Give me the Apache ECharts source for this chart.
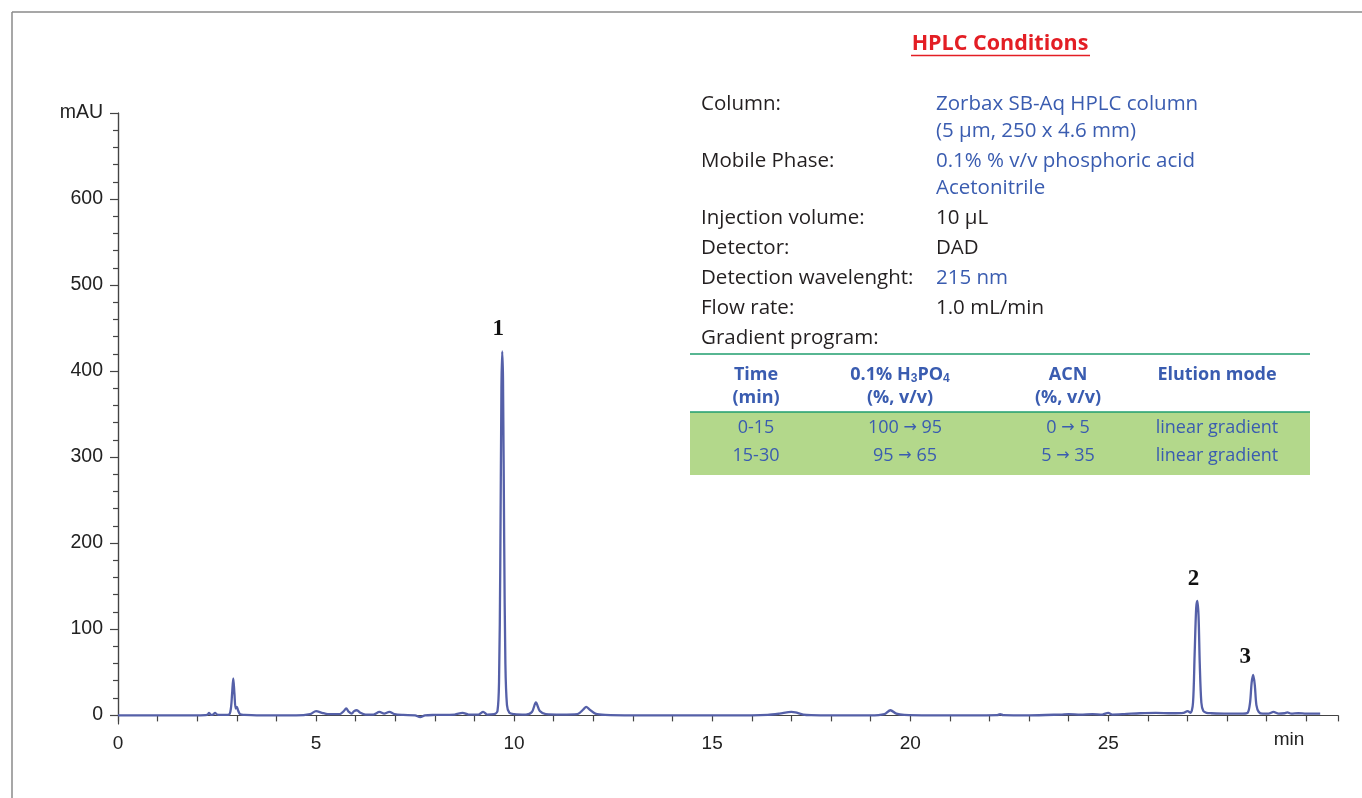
<!DOCTYPE html>
<html>
<head>
<meta charset="utf-8">
<script src="https://cdn.jsdelivr.net/npm/echarts@6/dist/echarts.min.js"></script>
<style>
html,body{margin:0;padding:0;background:#fff;}
#chart{width:1362px;height:798px;}
</style>
</head>
<body>
<div id="chart"></div>
<script>
// Chromatogram: [retention time (min), absorbance (mAU)]
const chromatogram = [
  [0,0],[0.5,0],[1.0,0],[1.5,0],[2.0,0],[2.25,0.5],[2.30,3],[2.35,0.5],[2.40,1],[2.45,3],[2.50,1],[2.6,0.5],
  [2.80,1],[2.85,8],[2.88,25],[2.91,43],[2.94,25],[2.97,8],[3.00,10],[3.03,6],[3.07,2],[3.12,1],[3.2,0.5],
  [3.5,0],[4.0,0],[4.5,0],[4.85,1.5],[5.0,5],[5.15,3],[5.3,1.5],[5.6,1.5],[5.7,5],[5.76,8],[5.83,4],[5.9,2],
  [5.96,5],[6.03,6],[6.12,3],[6.25,1],[6.45,1],[6.6,4],[6.72,2],[6.85,4],[6.98,1.5],[7.2,0.5],[7.5,0],
  [7.63,-2],[7.75,0],[8.0,0.5],[8.5,1],[8.7,3],[8.85,1],[9.1,1],[9.22,4],[9.32,1],[9.5,1.5],[9.58,5],
  [9.62,40],[9.65,170],[9.68,380],[9.70,423],[9.72,390],[9.75,200],[9.78,60],[9.82,12],[9.88,3],[10.0,1.5],
  [10.3,1],[10.45,4],[10.55,15],[10.65,5],[10.8,1.5],[11.2,1],[11.6,1.5],[11.75,7],[11.82,10],[11.9,7],
  [12.05,2],[12.3,0.5],[13,0],[14,0],[15,0],[16,0],[16.4,0.5],[16.7,2],[17.0,4],[17.1,3.5],[17.3,1],
  [17.5,0.3],[18,0],[19,0],[19.35,1.5],[19.5,6],[19.65,2],[19.85,0.5],[20.5,0],[21.5,0],[22.2,0.3],
  [22.27,1.5],[22.35,0.3],[23,0],[23.8,1],[24.0,1.5],[24.3,1],[24.6,1.5],[24.85,1],[25.0,3],[25.1,1],
  [25.4,1.5],[25.8,2.5],[26.2,3],[26.6,2.5],[26.9,3],[27.0,5],[27.08,3],[27.14,15],[27.18,70],[27.22,125],
  [27.25,133],[27.28,115],[27.31,60],[27.35,15],[27.40,5],[27.48,3],[27.6,2.5],[28.0,2],[28.4,2],
  [28.52,3],[28.58,15],[28.62,38],[28.66,47],[28.70,35],[28.74,12],[28.80,4],[28.9,2],[29.05,2],
  [29.17,4],[29.3,2],[29.45,2.5],[29.52,3.5],[29.62,2],[29.8,2.5],[30.0,2],[30.35,2]
];
const peakNames = ['1', '2', '3'];
const peakTimes = [9.70, 27.25, 28.66];
const peakHeights = [423, 133, 47];
const yTicks = [0, 100, 200, 300, 400, 500, 600, 700];
const xTicks = [0, 5, 10, 15, 20, 25];

const conditionLabels = ['Column:', 'Mobile Phase:', 'Injection volume:', 'Detector:', 'Detection wavelenght:', 'Flow rate:', 'Gradient program:'];
const conditionValues = [
  ['Zorbax SB-Aq HPLC column', '(5 µm, 250 x 4.6 mm)'],
  ['0.1% % v/v phosphoric acid', 'Acetonitrile'],
  ['10 µL'],
  ['DAD'],
  ['215 nm'],
  ['1.0 mL/min'],
  []
];
const conditionBlue = [true, true, false, false, true, false, false];
const gradientHeaders = [['Time', '(min)'], ['0.1% H{sub|3}PO{sub|4}', '(%, v/v)'], ['ACN', '(%, v/v)'], ['Elution mode', '']];
const gradientRows = [
  ['0-15', '100 {arr|→} 95', '0 {arr|→} 5', 'linear gradient'],
  ['15-30', '95 {arr|→} 65', '5 {arr|→} 35', 'linear gradient']
];

const BLUE = '#3a5cb0';
const BLACK = '#231f20';
const FONT = '"Open Sans", "Noto Sans", sans-serif';

const graphic = [];
// frame
graphic.push({type:'line', shape:{x1:12, y1:12, x2:1362, y2:12}, style:{stroke:'#8a8a8a', lineWidth:1.5}, silent:true});
graphic.push({type:'line', shape:{x1:12, y1:12, x2:12, y2:798}, style:{stroke:'#8a8a8a', lineWidth:1.5}, silent:true});
// title
graphic.push({type:'text', x:1000, y:44, style:{text:'HPLC Conditions', fill:'#e31e24', font:'bold 21.5px ' + FONT, align:'center', verticalAlign:'middle'}});
graphic.push({type:'line', shape:{x1:911, y1:55.5, x2:1090, y2:55.5}, style:{stroke:'#e31e24', lineWidth:1.6}});
// conditions
let yy = 104;
conditionLabels.forEach((lab, i) => {
  graphic.push({type:'text', x:701, y:yy, style:{text:lab, fill:BLACK, font:'20.5px ' + FONT, align:'left', verticalAlign:'middle'}});
  const vals = conditionValues[i];
  vals.forEach((v, j) => {
    graphic.push({type:'text', x:936, y:yy + j * 27, style:{text:v, fill:conditionBlue[i] ? BLUE : BLACK, font:'20.5px ' + FONT, align:'left', verticalAlign:'middle'}});
  });
  yy += Math.max(0, vals.length - 1) * 27 + 30;
});
// gradient table
graphic.push({type:'rect', shape:{x:690, y:412, width:620, height:63}, style:{fill:'#b3d88b'}});
graphic.push({type:'line', shape:{x1:690, y1:354, x2:1310, y2:354}, style:{stroke:'#1f9e6e', lineWidth:1.5}});
graphic.push({type:'line', shape:{x1:690, y1:412, x2:1310, y2:412}, style:{stroke:'#1f9e6e', lineWidth:1.5}});
const colX = [756, 900, 1068, 1217];
const rowX = [756, 905, 1068, 1217];
gradientHeaders.forEach((h, c) => {
  h.forEach((t, r) => {
    graphic.push({type:'text', x:colX[c], y:375 + r * 23, style:{
      text:t, fill:BLUE, font:'bold 18px ' + FONT, align:'center', verticalAlign:'middle',
      rich:{sub:{fontSize:12, fontWeight:'bold', fill:BLUE, verticalAlign:'bottom', padding:[8,0,0,0]}}
    }});
  });
});
gradientRows.forEach((row, r) => {
  row.forEach((t, c) => {
    graphic.push({type:'text', x:rowX[c], y:428 + r * 28, style:{
      text:t, fill:BLUE, font:'18px ' + FONT, align:'center', verticalAlign:'middle',
      rich:{arr:{fontFamily:'"DejaVu Sans", sans-serif', fontSize:16, fill:BLUE}}
    }});
  });
});
// x-axis unit
graphic.push({type:'text', x:1289, y:740, style:{text:'min', fill:'#222', font:'19px "Liberation Sans", Arial, sans-serif', align:'center', verticalAlign:'middle'}});

const axisColor = '#444';
const chart = echarts.init(document.getElementById('chart'));
chart.setOption({
  animation:false,
  backgroundColor:'#fff',
  graphic: graphic,
  grid:[
    {left:118, right:24, top:113, bottom:74},
    {left:118, right:24, top:113, bottom:83}
  ],
  xAxis:[
    {type:'value', gridIndex:0, min:0, max:30.8, interval:5,
     axisLine:{show:true, lineStyle:{color:axisColor, width:1.2}},
     axisTick:{show:true, length:6, lineStyle:{color:axisColor, width:1.2}},
     minorTick:{show:true, splitNumber:5, length:6, lineStyle:{color:axisColor, width:1.2}},
     splitLine:{show:false},
     axisLabel:{show:true, margin:10, color:'#222', fontSize:19, fontFamily:'"Liberation Sans", Arial, sans-serif',
       formatter:(v) => xTicks.indexOf(v) >= 0 ? String(v) : ''}},
    {type:'value', gridIndex:1, min:0, max:30.8, show:false}
  ],
  yAxis:[
    {type:'value', gridIndex:0, min:-10, max:700,
     axisLine:{show:true, lineStyle:{color:axisColor, width:1.2}},
     axisTick:{show:false}, axisLabel:{show:false}, splitLine:{show:false}},
    {type:'value', gridIndex:1, min:0, max:700, interval:100,
     axisLine:{show:true, lineStyle:{color:axisColor, width:1.2}},
     axisTick:{show:true, length:8, lineStyle:{color:axisColor, width:1.2}},
     minorTick:{show:true, splitNumber:5, length:5, lineStyle:{color:axisColor, width:1.2}},
     splitLine:{show:false},
     axisLabel:{show:true, margin:15, color:'#222', fontSize:19.5, fontFamily:'"Liberation Sans", Arial, sans-serif',
       formatter:(v) => v === 700 ? 'mAU' : (yTicks.indexOf(v) >= 0 ? String(v) : '')}}
  ],
  series:[{
    type:'line', xAxisIndex:0, yAxisIndex:0, data:chromatogram,
    showSymbol:false, symbol:'none', clip:false, smooth:0.3,
    lineStyle:{color:'#5560a8', width:2.3},
    markPoint:{
      symbol:'circle', symbolSize:1,
      itemStyle:{color:'rgba(0,0,0,0)'},
      label:{show:true, position:'inside', color:'#111', fontSize:23, fontWeight:'bold',
        fontFamily:'"Liberation Serif", "DejaVu Serif", serif', formatter:(p) => p.name},
      data: peakNames.map((n, i) => ({name:n, coord:[peakTimes[i], peakHeights[i]],
        label:{offset:[i === 2 ? -8 : -4, i === 2 ? -18 : -22]}}))
    }
  }]
});
</script>
</body>
</html>
